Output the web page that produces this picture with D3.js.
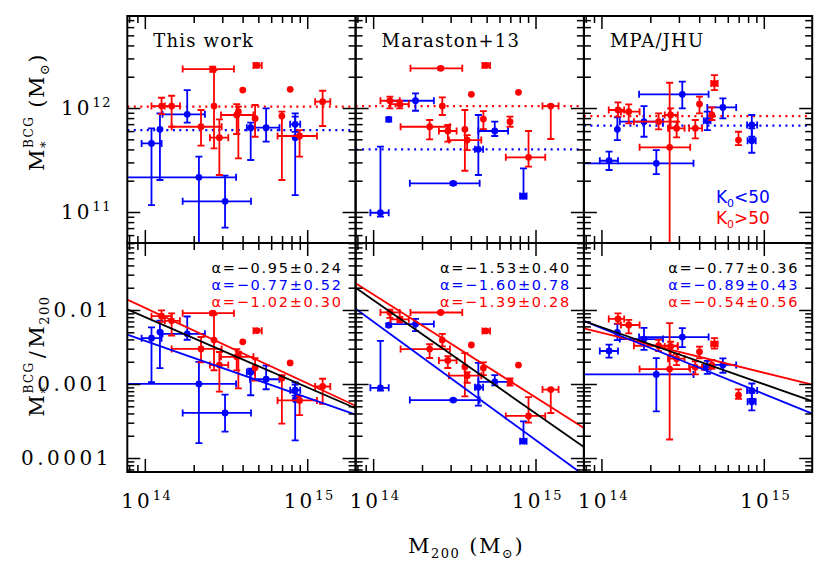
<!DOCTYPE html>
<html><head><meta charset="utf-8">
<script src="https://cdn.jsdelivr.net/npm/d3@7"></script>
<style>body{margin:0;background:#fff}</style>
</head><body><svg id="c" width="830" height="572"></svg>
<script>
// ---------------- DATA (log10 values) ----------------
const panelTitles = ["This work", "Maraston+13", "MPA/JHU"];
// columns: lgM200, lgM200_lo, lgM200_hi, lgMstar, lgMstar_lo, lgMstar_hi
// optional extra columns: lg(M*/M200)_lo, lg(M*/M200)_hi when the ratio error bar differs
const thisWorkRed = [
  [14.103,14.041,14.165,12.019,11.942,12.099],
  [14.165,14.123,14.216,12.019,11.820,12.118],
  [14.418,14.233,14.549,12.375,12.349,12.397],
  [14.426,null,null,12.019,11.612,12.365],
  [14.346,14.165,14.473,11.820,11.638,11.981],
  [14.459,14.401,14.514,11.715,11.356,11.891],
  [14.603,null,null,12.173,null,null],
  [14.689,14.669,14.720,12.410,12.390,12.430],
  [14.566,14.469,14.669,11.933,11.750,12.038],
  [14.576,null,null,11.965,11.516,12.013],
  [14.679,null,null,11.900,11.724,12.029],
  [14.844,null,null,11.923,11.308,11.965],
  [14.895,null,null,12.180,null,null],
  [14.953,14.817,15.060,11.731,11.532,11.788],
  [15.095,15.049,15.142,12.061,11.827,12.166]
];
const thisWorkBlue = [
  [14.041,13.980,14.103,11.660,11.067,11.805],
  [14.093,null,null,11.795,11.308,11.949],
  [14.261,14.109,14.370,11.939,11.859,12.173],
  [14.333,13.850,14.562,11.334,10.530,11.532,-3.80,-2.70],
  [14.494,14.233,14.654,11.103,10.850,11.350],
  [14.652,14.628,14.679,11.811,11.500,11.859],
  [14.747,14.648,14.829,11.811,11.676,11.997],
  [14.926,14.895,14.957,11.843,11.770,11.949],
  [14.926,null,null,11.715,11.163,11.917]
];
const marastonRed = [
  [14.103,14.045,14.164,12.070,11.997,12.109],
  [14.164,14.107,14.220,12.038,11.997,12.070],
  [14.416,14.230,14.549,12.382,12.370,12.394],
  [14.426,null,null,12.019,11.933,12.103],
  [14.348,14.169,14.473,11.820,11.699,11.885],
  [14.460,14.405,14.514,11.779,11.676,11.837],
  [14.605,null,null,12.132,null,null],
  [14.693,14.673,14.720,12.410,12.390,12.430],
  [14.565,null,null,11.795,11.397,11.981],
  [14.579,14.467,14.666,11.692,11.596,11.740],
  [14.679,null,null,11.894,11.798,11.971],
  [14.843,null,null,11.869,11.820,11.917],
  [14.895,null,null,12.151,null,null],
  [14.957,14.817,15.060,11.526,11.436,11.779],
  [15.094,15.043,15.142,12.019,11.702,12.030]
];
const marastonBlue = [
  [14.045,13.983,14.096,10.993,10.955,11.628],
  [14.096,null,null,11.891,11.870,11.910],
  [14.261,14.107,14.374,12.070,11.974,12.141],
  [14.493,14.226,14.656,11.276,11.260,11.290],
  [14.648,14.627,14.677,11.603,11.356,11.933],
  [14.749,14.648,14.831,11.779,11.731,11.869],
  [14.926,14.905,14.945,11.154,11.130,11.420]
];
const mpaRed = [
  [14.102,14.045,14.140,11.981,11.917,12.055],
  [14.168,14.120,14.235,11.965,11.853,12.035],
  [14.426,14.390,14.470,11.933,11.814,11.997],
  [14.420,14.235,14.547,11.622,10.670,12.243],
  [14.352,14.200,14.470,11.869,11.795,11.949],
  [14.463,14.410,14.512,11.805,11.718,11.869],
  [14.604,null,null,12.038,11.949,12.109],
  [14.696,14.676,14.716,12.237,12.173,12.317],
  [14.578,14.540,14.620,11.805,11.709,11.885],
  [14.680,null,null,11.933,11.885,12.006],
  [14.844,null,null,11.692,11.644,11.772]
];
const mpaBlue = [
  [14.047,13.990,14.102,11.493,11.404,11.580],
  [14.098,null,null,11.795,11.692,11.910],
  [14.262,14.113,14.379,11.869,11.724,12.019],
  [14.338,13.850,14.567,11.468,11.365,11.596,-3.37,-2.65],
  [14.498,14.232,14.660,12.132,11.997,12.253],
  [14.652,14.630,14.672,11.878,11.788,11.965],
  [14.748,14.652,14.830,12.006,11.900,12.093],
  [14.926,14.897,14.959,11.837,11.724,11.933],
  [14.926,14.900,14.950,11.686,11.570,11.805]
];
const redSets = [thisWorkRed, marastonRed, mpaRed];
const blueSets = [thisWorkBlue, marastonBlue, mpaBlue];
// mean lg M*BCG (dotted lines, top row)
const meanRed = [12.013, 12.019, 11.923];
const meanBlue = [11.788, 11.603, 11.830];
// power-law fits, bottom row: slope alpha, its error, lg(M*/M200) at M200 = 10^14.5
const alphaAll = [-0.95, -1.53, -0.77], alphaAllErr = [0.24, 0.40, 0.36], normAll = [-2.57, -2.63, -2.617];
const alphaBlue = [-0.77, -1.60, -0.89], alphaBlueErr = [0.52, 0.78, 0.43], normBlue = [-2.80, -2.955, -2.69];
const alphaRed = [-1.02, -1.39, -0.54], alphaRedErr = [0.30, 0.28, 0.56], normRed = [-2.48, -2.485, -2.577];
const legendLabels = ["<50", ">50"];
const xTickExps = [14, 15];
const topTickExps = [11, 12];
const bottomTickVals = [1e-4, 1e-3, 1e-2];
const bottomTickLabels = ["0.0001", "0.001", "0.01"];

// ---------------- LAYOUT ----------------
const RED = "#ff0000", BLUE = "#0000ff";
const L0 = 127.3, PW = 228.3, TOP = 16, MID = 243, BOT = 472;
const serif = "'DejaVu Serif', serif", sans = "'DejaVu Sans', sans-serif";
const svg = d3.select("#c");
const xDom = [Math.pow(10, 13.892), Math.pow(10, 15.298)];
const topDom = [Math.pow(10, 10.702), Math.pow(10, 12.885)];
const botDom = [Math.pow(10, -4.189), Math.pow(10, -1.095)];

function logTicks(dom) {
  const lo = Math.floor(Math.log10(dom[0])), hi = Math.ceil(Math.log10(dom[1]));
  const maj = [], min = [];
  for (let d = lo; d <= hi; d++) for (let k = 1; k <= 9; k++) {
    const v = k * Math.pow(10, d);
    if (v < dom[0] * 0.9999 || v > dom[1] * 1.0001) continue;
    (k === 1 ? maj : min).push(v);
  }
  return {maj, min};
}

function drawAxes(g, x, y, x0, x1, y0, y1) {
  const xt = logTicks(x.domain()), yt = logTicks(y.domain());
  const specs = [
    [d3.axisBottom(x), `translate(0,${y1})`, xt], [d3.axisTop(x), `translate(0,${y0})`, xt],
    [d3.axisLeft(y), `translate(${x0},0)`, yt], [d3.axisRight(y), `translate(${x1},0)`, yt]
  ];
  specs.forEach(([ax, tr, t]) => {
    [[t.maj, 13], [t.min, 7]].forEach(([vals, size]) => {
      const a = g.append("g").attr("transform", tr)
        .call(ax.tickValues(vals).tickSize(-size).tickSizeOuter(0).tickFormat(""));
      a.select(".domain").remove();
      a.selectAll("line").attr("stroke", "#000").attr("stroke-width", 1.5);
    });
  });
  g.append("rect").attr("x", x0).attr("y", y0).attr("width", x1 - x0).attr("height", y1 - y0)
    .attr("fill", "none").attr("stroke", "#000").attr("stroke-width", 2);
}

function drawPoints(g, data, x, y, color, ratio) {
  const cap = 3.5;
  const P = Math.pow;
  data.forEach(d => {
    const off = ratio ? d[0] : 0;
    const cx = x(P(10, d[0])), cy = y(P(10, d[3] - off));
    if (d[1] != null) {
      const xa = x(P(10, d[1])), xb = x(P(10, d[2]));
      g.append("line").attr("x1", xa).attr("x2", xb).attr("y1", cy).attr("y2", cy);
      [xa, xb].forEach(xx => g.append("line").attr("x1", xx).attr("x2", xx).attr("y1", cy - cap).attr("y2", cy + cap));
    }
    if (d[4] != null) {
      const useR = ratio && d.length > 6;
      const ya = y(P(10, useR ? d[6] : d[4] - off)), yb = y(P(10, useR ? d[7] : d[5] - off));
      g.append("line").attr("x1", cx).attr("x2", cx).attr("y1", ya).attr("y2", yb);
      [ya, yb].forEach(yy => g.append("line").attr("x1", cx - cap).attr("x2", cx + cap).attr("y1", yy).attr("y2", yy));
    }
    g.append("circle").attr("cx", cx).attr("cy", cy).attr("r", 3.4).attr("fill", color).attr("stroke", "none");
  });
  g.selectAll("line").attr("stroke", color).attr("stroke-width", 1.8);
}

function powText(g, x, y, base, exp, anchor, fs) {
  const t = g.append("text").attr("x", x).attr("y", y).attr("text-anchor", anchor)
    .attr("font-family", serif).attr("font-size", fs).attr("letter-spacing", 3).attr("fill", "#000");
  t.append("tspan").text(base);
  t.append("tspan").attr("dy", -8).attr("font-size", 13).attr("letter-spacing", 1.5).text(exp);
  return t;
}

for (let i = 0; i < 3; i++) {
  const x0 = L0 + i * PW, x1 = x0 + PW;
  const x = d3.scaleLog().domain(xDom).range([x0, x1]);
  const yT = d3.scaleLog().domain(topDom).range([MID, TOP]);
  const yB = d3.scaleLog().domain(botDom).range([BOT, MID]);

  ["t", "b"].forEach((k, j) => {
    svg.append("clipPath").attr("id", `clip${k}${i}`).append("rect")
      .attr("x", x0).attr("y", j ? MID : TOP).attr("width", PW).attr("height", j ? BOT - MID : MID - TOP);
  });

  // ---- top row ----
  const gt = svg.append("g").attr("clip-path", `url(#clipt${i})`);
  [[meanRed[i], RED], [meanBlue[i], BLUE]].forEach(([m, c]) => {
    gt.append("line").attr("x1", x0).attr("x2", x1).attr("y1", yT(Math.pow(10, m))).attr("y2", yT(Math.pow(10, m)))
      .attr("stroke", c).attr("stroke-width", 2.2).attr("stroke-dasharray", "2,4.5");
  });
  drawPoints(gt.append("g"), blueSets[i], x, yT, BLUE, false);
  drawPoints(gt.append("g"), redSets[i], x, yT, RED, false);

  // ---- bottom row ----
  const gb = svg.append("g").attr("clip-path", `url(#clipb${i})`);
  drawPoints(gb.append("g"), blueSets[i], x, yB, BLUE, true);
  drawPoints(gb.append("g"), redSets[i], x, yB, RED, true);
  const lx = [Math.log10(xDom[0]), Math.log10(xDom[1])];
  [[alphaRed[i], normRed[i], RED], [alphaBlue[i], normBlue[i], BLUE], [alphaAll[i], normAll[i], "#000"]].forEach(([a, n, c]) => {
    const line = d3.line().x(v => x(Math.pow(10, v))).y(v => yB(Math.pow(10, n + a * (v - 14.5))));
    gb.append("path").attr("d", line(lx)).attr("fill", "none").attr("stroke", c).attr("stroke-width", 1.8);
  });

  drawAxes(svg.append("g"), x, yT, x0, x1, TOP, MID);
  drawAxes(svg.append("g"), x, yB, x0, x1, MID, BOT);

  svg.append("text").attr("x", x0 + 26).attr("y", 47).attr("font-family", serif).attr("font-size", 18)
    .attr("letter-spacing", 1.2).attr("fill", "#000").text(panelTitles[i]);

  // alpha annotations
  const fmt = v => (v < 0 ? "\u2212" : "") + Math.abs(v).toFixed(2);
  [[alphaAll[i], alphaAllErr[i], "#000"], [alphaBlue[i], alphaBlueErr[i], BLUE], [alphaRed[i], alphaRedErr[i], RED]].forEach(([a, e, c], k) => {
    svg.append("text").attr("x", x1 - 13).attr("y", 273 + k * 17).attr("text-anchor", "end")
      .attr("font-family", sans).attr("font-size", 14.5).attr("letter-spacing", 1.7).attr("fill", c)
      .text(`\u03b1=${fmt(a)}\u00b1${e.toFixed(2)}`);
  });

  xTickExps.forEach(e => powText(svg, x(Math.pow(10, e)) + 2, 508, "10", String(e), "middle", 20));

  if (i === 2) {
    const lt = svg.append("text").attr("font-family", sans).attr("font-size", 17);
    legendLabels.forEach((lab, k) => {
      const c = k ? RED : BLUE;
      lt.append("tspan").attr("x", x0 + 132).attr("y", 203 + k * 20.5).attr("fill", c).text("K");
      lt.append("tspan").attr("dy", 4).attr("font-size", 11).attr("fill", c).text("0");
      lt.append("tspan").attr("dy", -4).attr("fill", c).text(lab);
    });
  }
  if (i === 0) {
    topTickExps.forEach(e => powText(svg, 112, yT(Math.pow(10, e)) + 7, "10", String(e), "end", 20));
    bottomTickVals.forEach((v, k) => svg.append("text").attr("x", 112).attr("y", yB(v) + 7)
      .attr("text-anchor", "end").attr("font-family", serif).attr("font-size", 20).attr("letter-spacing", 3.5)
      .attr("fill", "#000").text(bottomTickLabels[k]));
  }
}

// ---- axis titles (single text elements with sub/superscript tspans) ----
function title(transform, parts) {
  const t = svg.append("text").attr("transform", transform).attr("text-anchor", "middle")
    .attr("font-family", serif).attr("font-size", 21).attr("letter-spacing", 1.5).attr("fill", "#000");
  parts.forEach(p => {
    const s = t.append("tspan").text(p.t);
    if (p.fs) s.attr("font-size", p.fs);
    if (p.dx) s.attr("dx", p.dx);
    if (p.dy) s.attr("dy", p.dy);
  });
}
title("translate(44,112) rotate(-90)", [
  {t: "M"}, {t: "*", fs: 13, dy: 6}, {t: "BCG", fs: 12, dx: -8, dy: -17},
  {t: "(M", dx: 8, dy: 11}, {t: "\u2299", fs: 13, dy: 5}, {t: ")", dy: -5}
]);
title("translate(44,356) rotate(-90)", [
  {t: "M"}, {t: "*", fs: 13, dy: 6}, {t: "BCG", fs: 12, dx: -8, dy: -17},
  {t: "/", dx: 3, dy: 11}, {t: "M", dx: 2}, {t: "200", fs: 13, dy: 5}
]);
title("translate(466,553)", [
  {t: "M"}, {t: "200", fs: 13, dy: 5}, {t: "(M", dx: 9, dy: -5}, {t: "\u2299", fs: 13, dy: 5}, {t: ")", dy: -5}
]);
</script></body></html>
